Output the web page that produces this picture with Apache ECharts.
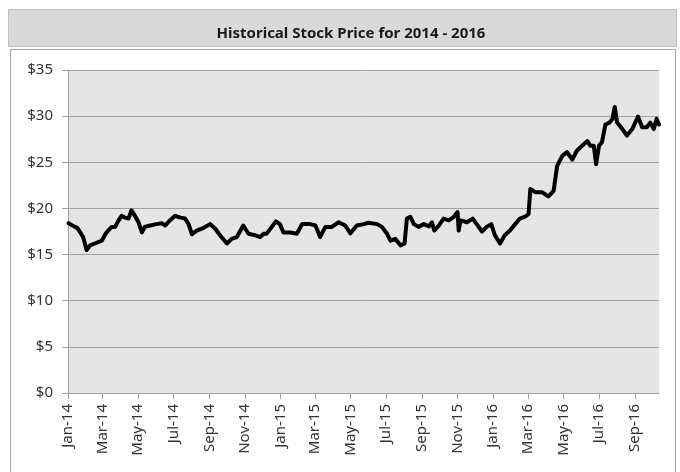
<!DOCTYPE html>
<html>
<head>
<meta charset="utf-8">
<script src="https://cdn.jsdelivr.net/npm/echarts@6/dist/echarts.min.js"></script>
<style>
html,body{margin:0;padding:0;background:#fff;}
#chart{width:680px;height:472px;}
</style>
</head>
<body>
<div id="chart"></div>
<script>
// Data
var title = 'Historical Stock Price for 2014 - 2016';
var dates = [
'2014-01-02','2014-01-13','2014-01-17','2014-01-27','2014-02-02','2014-02-08','2014-02-16','2014-02-28',
'2014-03-06','2014-03-11','2014-03-17','2014-03-23','2014-03-28','2014-04-03','2014-04-09','2014-04-15',
'2014-04-20','2014-04-26','2014-05-02','2014-05-08','2014-05-13','2014-05-22','2014-06-02','2014-06-11',
'2014-06-17','2014-06-25','2014-07-04','2014-07-13','2014-07-21','2014-07-27','2014-08-02','2014-08-10',
'2014-08-22','2014-09-02','2014-09-11','2014-09-19','2014-10-01','2014-10-09','2014-10-18','2014-10-29',
'2014-11-07','2014-11-18','2014-11-27','2014-12-03','2014-12-08','2014-12-17','2014-12-24','2014-12-31',
'2015-01-06','2015-01-18','2015-01-29','2015-02-07','2015-02-21','2015-03-02','2015-03-10','2015-03-19',
'2015-03-30','2015-04-11','2015-04-22','2015-05-01','2015-05-12','2015-05-24','2015-06-01','2015-06-16',
'2015-06-24','2015-07-03','2015-07-09','2015-07-17','2015-07-26','2015-08-02','2015-08-06','2015-08-12',
'2015-08-18','2015-08-26','2015-09-04','2015-09-13','2015-09-18','2015-09-22','2015-09-30','2015-10-08',
'2015-10-17','2015-10-25','2015-11-01','2015-11-03','2015-11-06','2015-11-17','2015-11-27','2015-12-04',
'2015-12-13','2015-12-21','2015-12-29','2016-01-04','2016-01-13','2016-01-21','2016-01-30','2016-02-08',
'2016-02-16','2016-02-25','2016-03-02','2016-03-05','2016-03-14','2016-03-25','2016-04-05','2016-04-14',
'2016-04-17','2016-04-20','2016-04-29','2016-05-07','2016-05-16','2016-05-24','2016-06-02','2016-06-11',
'2016-06-16','2016-06-22','2016-06-26','2016-07-01','2016-07-06','2016-07-12','2016-07-19','2016-07-24',
'2016-07-28','2016-08-01','2016-08-10','2016-08-18','2016-08-27','2016-09-06','2016-09-13','2016-09-21',
'2016-09-27','2016-10-03','2016-10-08','2016-10-12'
];
var prices = [
18.4,18.0,17.9,16.9,15.5,16.0,16.2,16.5,
17.2,17.6,18.0,18.0,18.6,19.2,19.0,18.9,
19.8,19.2,18.5,17.4,18.0,18.15,18.3,18.4,
18.15,18.7,19.2,19.0,18.9,18.3,17.2,17.6,
17.9,18.3,17.8,17.1,16.2,16.7,16.9,18.15,
17.25,17.1,16.9,17.25,17.25,18.0,18.6,18.3,
17.4,17.4,17.25,18.3,18.3,18.15,16.9,18.0,
18.0,18.5,18.15,17.3,18.15,18.3,18.45,18.3,
18.0,17.25,16.5,16.7,16.0,16.2,18.9,19.1,
18.3,18.0,18.3,18.05,18.5,17.6,18.15,18.9,
18.7,19.05,19.6,17.6,18.7,18.5,18.9,18.3,
17.5,18.0,18.3,17.1,16.2,17.1,17.6,18.3,
18.9,19.1,19.4,22.1,21.75,21.75,21.3,21.9,
22.1,24.6,25.7,26.1,25.3,26.25,26.8,27.3,
26.8,26.8,24.8,26.8,27.15,29.1,29.3,29.7,
31.0,29.3,28.6,27.9,28.6,29.95,28.8,28.8,
29.3,28.6,29.7,29.1
];
var tickMonths = ['2014-01','2014-03','2014-05','2014-07','2014-09','2014-11',
'2015-01','2015-03','2015-05','2015-07','2015-09','2015-11',
'2016-01','2016-03','2016-05','2016-07','2016-09'];
var monthNames = ['Jan','Feb','Mar','Apr','May','Jun','Jul','Aug','Sep','Oct','Nov','Dec'];
var axisStart = '2014-01-01';
var axisEnd = '2016-10-12';

function toTs(s){
  var p = s.split('-');
  return Date.UTC(+p[0], +p[1]-1, p[2] ? +p[2] : 1);
}
var seriesData = dates.map(function(d,i){ return [toTs(d), prices[i]]; });
var tickTs = tickMonths.map(toTs);

var chart = echarts.init(document.getElementById('chart'), null, {renderer:'canvas'});
var font = '"Noto Sans", sans-serif';
chart.setOption({
  animation:false,
  backgroundColor:'#ffffff',
  graphic:[
    {type:'rect', shape:{x:10.5,y:49.5,width:665,height:430}, style:{fill:'#ffffff',stroke:'#a6a6a6',lineWidth:1}, z:-10},
    {type:'rect', shape:{x:8.5,y:9.5,width:668,height:37}, style:{fill:'#d9d9d9',stroke:'#bfbfbf',lineWidth:1}, z:-10},
    {type:'rect', shape:{x:68,y:70,width:591,height:323}, style:{fill:'#e5e5e5'}, z:-5}
  ],
  title:{
    text:title, left:346, textAlign:'center', top:19, itemGap:0,
    textStyle:{fontFamily:font, fontSize:15, fontWeight:'bold', color:'#1a1a1a', lineHeight:20}
  },
  grid:{left:68, right:21, top:70, bottom:79, containLabel:false},
  xAxis:{
    type:'value',
    min:toTs(axisStart), max:toTs(axisEnd),
    axisLine:{show:true, onZero:false, lineStyle:{color:'#a0a0a0', width:1}},
    axisTick:{show:true, length:6, customValues:tickTs, lineStyle:{color:'#a0a0a0'}},
    splitLine:{show:false},
    axisLabel:{
      customValues:tickTs, rotate:90, margin:11,
      fontFamily:font, fontSize:15, color:'#333333',
      formatter:function(v){
        var d = new Date(v);
        return monthNames[d.getUTCMonth()] + '-' + String(d.getUTCFullYear()).slice(2);
      }
    }
  },
  yAxis:{
    type:'value', min:0, max:35, interval:5,
    axisLine:{show:true, lineStyle:{color:'#a0a0a0', width:1}},
    axisTick:{show:true, length:6, lineStyle:{color:'#a0a0a0'}},
    splitLine:{show:true, lineStyle:{color:'#a0a0a0', width:1}},
    axisLabel:{margin:15, fontFamily:font, fontSize:15, color:'#333333',
      formatter:function(v){ return '$' + v; }}
  },
  series:[{
    type:'line', data:seriesData, showSymbol:false, symbol:'none',
    lineStyle:{color:'#000000', width:4, join:'round', cap:'round'},
    clip:true
  }]
});
</script>
</body>
</html>
